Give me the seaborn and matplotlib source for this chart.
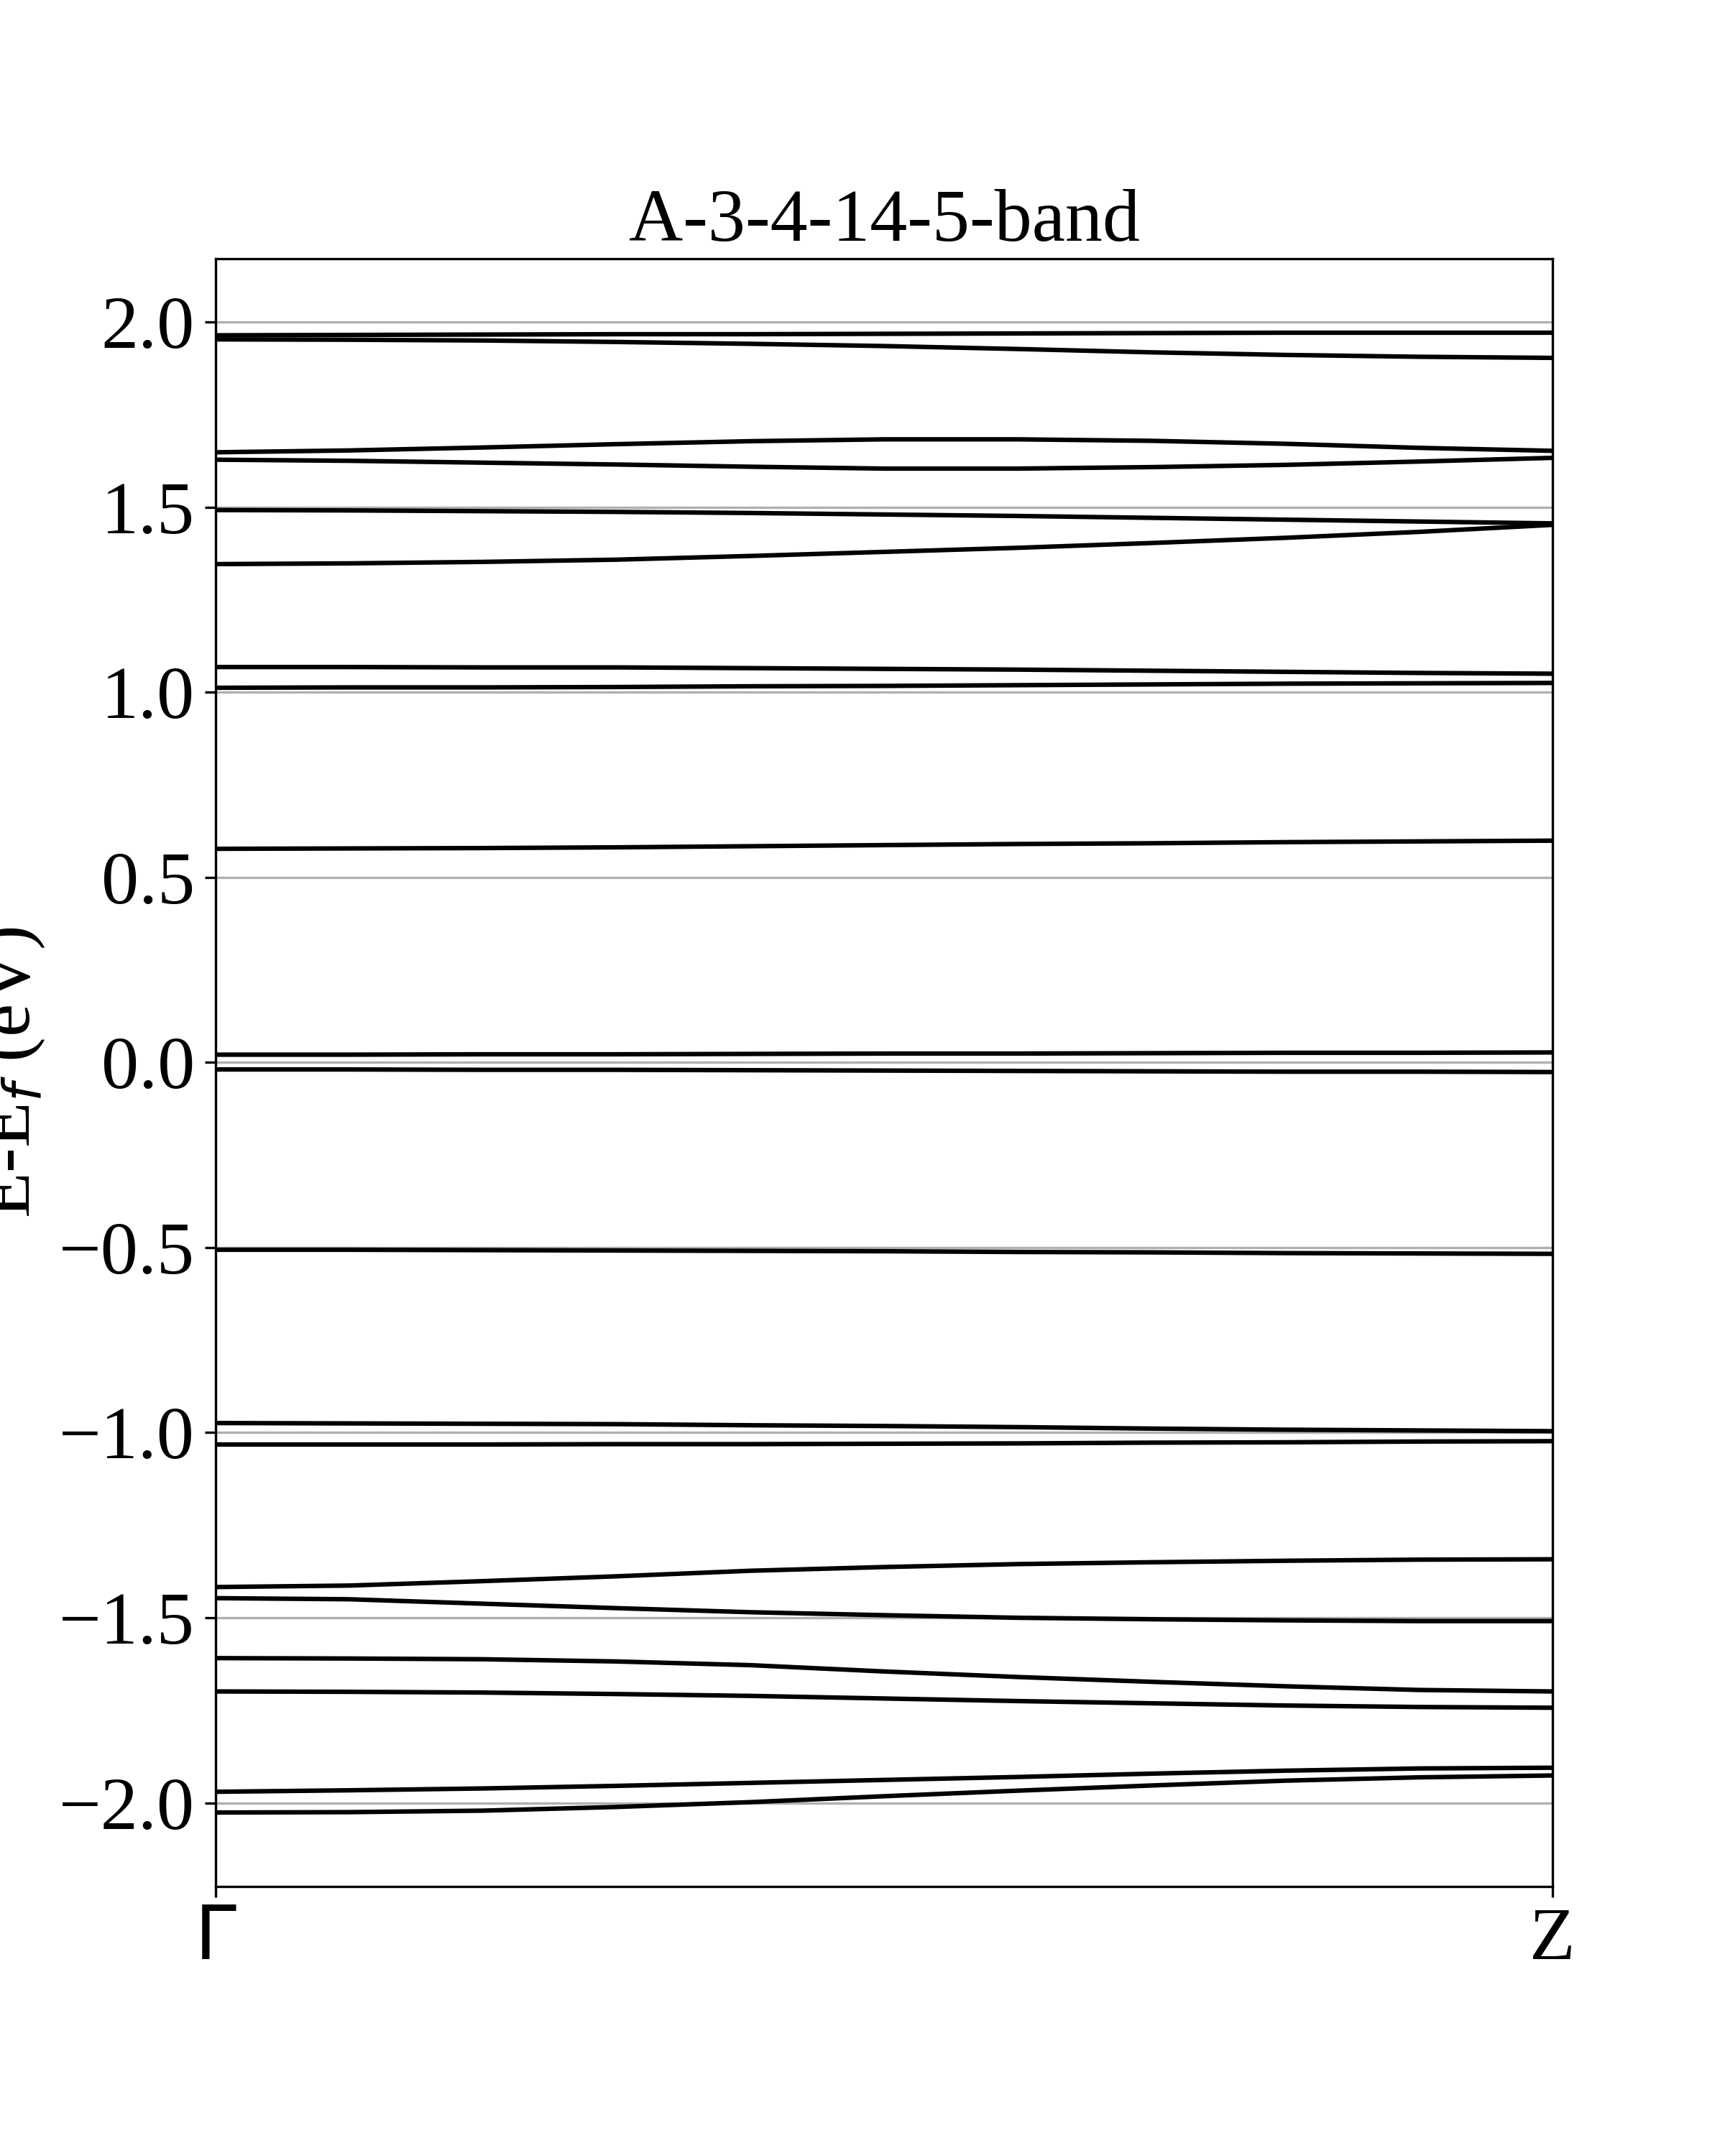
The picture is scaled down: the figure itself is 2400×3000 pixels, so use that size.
import matplotlib
matplotlib.use("Agg")
import matplotlib.pyplot as plt
import seaborn as sns
import pandas as pd

# k-path positions (fraction of Gamma -> Z)
k_points = [0.0, 0.1, 0.2, 0.3, 0.4, 0.5, 0.6, 0.7, 0.8, 0.9, 1.0]
k_labels = [r"$\Gamma$", "Z"]
k_ticks = [0.0, 1.0]

# band energies E-Ef (eV)
band_01 = [1.964, 1.965, 1.966, 1.967, 1.967, 1.968, 1.969, 1.970, 1.971, 1.971, 1.971]
band_02 = [1.953, 1.952, 1.950, 1.946, 1.941, 1.935, 1.927, 1.918, 1.911, 1.906, 1.903]
band_03 = [1.648, 1.653, 1.661, 1.670, 1.678, 1.683, 1.683, 1.679, 1.671, 1.660, 1.652]
band_04 = [1.628, 1.625, 1.620, 1.615, 1.609, 1.604, 1.604, 1.608, 1.614, 1.623, 1.633]
band_05 = [1.492, 1.491, 1.489, 1.487, 1.484, 1.480, 1.476, 1.471, 1.466, 1.461, 1.456]
band_06 = [1.346, 1.348, 1.352, 1.358, 1.368, 1.379, 1.390, 1.403, 1.417, 1.433, 1.452]
band_07 = [1.068, 1.068, 1.067, 1.067, 1.065, 1.063, 1.061, 1.058, 1.055, 1.052, 1.050]
band_08 = [1.012, 1.013, 1.013, 1.014, 1.016, 1.017, 1.019, 1.021, 1.023, 1.024, 1.025]
band_09 = [0.577, 0.578, 0.579, 0.581, 0.584, 0.587, 0.590, 0.592, 0.595, 0.597, 0.599]
band_10 = [0.021, 0.021, 0.022, 0.022, 0.023, 0.024, 0.024, 0.025, 0.026, 0.026, 0.027]
band_11 = [-0.019, -0.019, -0.020, -0.020, -0.021, -0.022, -0.023, -0.024, -0.025, -0.025, -0.026]
band_12 = [-0.506, -0.506, -0.507, -0.508, -0.509, -0.510, -0.512, -0.513, -0.515, -0.516, -0.517]
band_13 = [-0.974, -0.975, -0.976, -0.977, -0.980, -0.982, -0.985, -0.989, -0.992, -0.994, -0.996]
band_14 = [-1.032, -1.032, -1.032, -1.031, -1.031, -1.030, -1.029, -1.027, -1.026, -1.024, -1.023]
band_15 = [-1.417, -1.413, -1.401, -1.388, -1.373, -1.363, -1.355, -1.350, -1.346, -1.343, -1.342]
band_16 = [-1.447, -1.450, -1.462, -1.474, -1.485, -1.493, -1.500, -1.504, -1.507, -1.509, -1.509]
band_17 = [-1.609, -1.610, -1.612, -1.618, -1.628, -1.645, -1.660, -1.673, -1.685, -1.695, -1.699]
band_18 = [-1.699, -1.700, -1.702, -1.706, -1.711, -1.718, -1.725, -1.731, -1.737, -1.741, -1.743]
band_19 = [-1.970, -1.966, -1.961, -1.954, -1.946, -1.938, -1.930, -1.921, -1.913, -1.907, -1.905]
band_20 = [-2.026, -2.025, -2.021, -2.011, -1.998, -1.982, -1.967, -1.953, -1.940, -1.931, -1.926]

bands = [band_01, band_02, band_03, band_04, band_05, band_06, band_07,
         band_08, band_09, band_10, band_11, band_12, band_13, band_14,
         band_15, band_16, band_17, band_18, band_19, band_20]

rows = []
for i, b in enumerate(bands):
    for k, e in zip(k_points, b):
        rows.append({"k": k, "E": e, "band": i})
df = pd.DataFrame(rows)

sns.set_style("ticks")
plt.rcParams["font.family"] = ["Liberation Serif", "DejaVu Sans"]
plt.rcParams["text.color"] = "black"
plt.rcParams["axes.labelcolor"] = "black"
plt.rcParams["xtick.color"] = "black"
plt.rcParams["ytick.color"] = "black"

fig, ax = plt.subplots(figsize=(8, 10), dpi=300)
fig.subplots_adjust(left=0.125, right=0.9, top=0.88, bottom=0.125)

sns.lineplot(data=df, x="k", y="E", units="band", estimator=None,
             color="black", lw=1.5, legend=False, ax=ax)

ax.set_xlim(k_points[0], k_points[-1])
ax.set_xticks(k_ticks)
ax.set_xticklabels(k_labels, fontsize=25)
ax.tick_params(axis="y", labelsize=25)
for s in ax.spines.values():
    s.set_linewidth(0.8)
    s.set_color("black")
ax.tick_params(width=0.8, length=3.5, color="black", labelcolor="black")

ax.yaxis.grid(True, color="#b0b0b0", lw=0.8)
ax.set_axisbelow(True)

ax.set_xlabel("")
ax.set_ylabel(r"E-E$_f$ (eV)", fontsize=25)
ax.set_title("A-3-4-14-5-band", fontsize=25, color="black")

fig.savefig("out.png", dpi=300)
